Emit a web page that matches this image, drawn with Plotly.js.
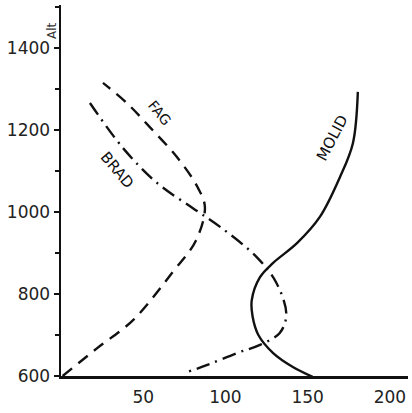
<!DOCTYPE html>
<html><head><meta charset="utf-8">
<script src="https://cdn.plot.ly/plotly-3.0.1.min.js"></script>
<style>html,body{margin:0;padding:0;background:#fff}</style>
</head><body>
<div id="chart" style="width:412px;height:413px"></div>
<script>
// FAG (dashed)
const fagX = [1, 22, 44, 68, 82, 87.5, 83, 70.5, 54, 40, 25.5];
const fagY = [600, 668, 737, 854, 930, 1012, 1061, 1134, 1207, 1266, 1315];
// BRAD (dash-dot)
const bradX = [17.6, 37.7, 58.4, 80, 97, 119, 131, 137, 133, 121, 107, 89, 77];
const bradY = [1266, 1156, 1071, 1010, 963, 890, 827, 750, 705, 676, 656, 627, 610];
// MOLID (solid)
const molidX = [180.5, 177.5, 169.6, 157.4, 143.5, 129, 121, 116, 116.5, 120, 129, 141, 153];
const molidY = [1293, 1168, 1085, 988, 924, 876, 841, 785, 745, 700, 656, 622, 598];
const yTicks = [600, 800, 1000, 1200, 1400];
const xTicks = [50, 100, 150, 200];

const lineBase = {type:'scatter', mode:'lines', hoverinfo:'skip'};
const data = [
  Object.assign({}, lineBase, {x: fagX, y: fagY, line:{color:'#111', width:2.4, dash:'12px,8px', shape:'spline', smoothing:1}}),
  Object.assign({}, lineBase, {x: bradX, y: bradY, line:{color:'#111', width:2.4, dash:'14px,6px,2px,6px', shape:'spline', smoothing:1}}),
  Object.assign({}, lineBase, {x: molidX, y: molidY, line:{color:'#111', width:2.4, shape:'spline', smoothing:1}})
];
const tf = {family:'DejaVu Sans', size:17, color:'#222'};
const layout = {
  width:412, height:413,
  margin:{l:61, r:4, t:5, b:37},
  paper_bgcolor:'#fff', plot_bgcolor:'#fff',
  showlegend:false,
  xaxis:{range:[0,211], showgrid:false, zeroline:false, showline:true, linecolor:'#111', linewidth:2.5,
         tickvals:xTicks, ticktext:xTicks.map(String), ticks:'', tickfont:tf, ticklabelstandoff:4},
  yaxis:{range:[600,1505], showgrid:false, zeroline:false, showline:true, linecolor:'#111', linewidth:2.5,
         tickvals:yTicks, ticktext:yTicks.map(String), ticks:'outside', ticklen:5, tickwidth:1.5, tickcolor:'#111',
         tickfont:tf, minor:{dtick:100, tick0:600, ticks:'outside', ticklen:4, tickwidth:1.5, tickcolor:'#111', showgrid:false}},
  annotations:[
    {text:'FAG', x:60, y:1241, xref:'x', yref:'y', showarrow:false, textangle:50, font:{family:'DejaVu Sans', size:14, color:'#111'}},
    {text:'BRAD', x:34, y:1102, xref:'x', yref:'y', showarrow:false, textangle:50, font:{family:'DejaVu Sans', size:15, color:'#111'}},
    {text:'MOLID', x:165, y:1180, xref:'x', yref:'y', showarrow:false, textangle:-62, font:{family:'DejaVu Sans', size:15, color:'#111'}},
    {text:'Alt', x:-0.05, y:0.96, xref:'paper', yref:'paper', showarrow:false, textangle:-90, font:{family:'DejaVu Sans', size:12, color:'#333'}}
  ]
};
Plotly.newPlot('chart', data, layout, {staticPlot:true, displayModeBar:false});
</script>
</body></html>
